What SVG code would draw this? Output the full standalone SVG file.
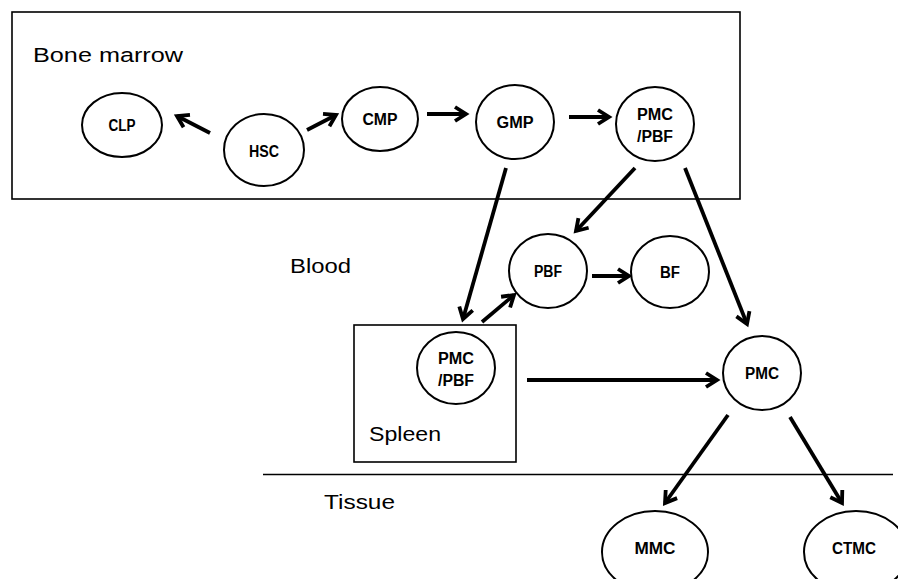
<svg xmlns="http://www.w3.org/2000/svg" width="898" height="579" viewBox="0 0 898 579">
<style>
.box{fill:none;stroke:#000;stroke-width:1.6}
.cell{fill:#fff;stroke:#000;stroke-width:2}
.lbl{font-family:"Liberation Sans",Arial,sans-serif;font-weight:bold;font-size:16px;text-anchor:middle}
.reg{font-family:"Liberation Sans",Arial,sans-serif;font-size:20.5px}
.arr{stroke:#000;stroke-width:3.8;fill:none;marker-end:url(#head)}
</style>
<defs>
<marker id="head" markerUnits="userSpaceOnUse" viewBox="-14 -10 18 20" markerWidth="18" markerHeight="20" refX="0" refY="0" orient="auto">
<path d="M-11,-7 L0,0 L-11,7" fill="none" stroke="#000" stroke-width="3.8" stroke-linejoin="miter"/>
</marker>
</defs>
<g id="regions">
<rect id="bone-marrow" class="box" x="12" y="12" width="728" height="187"/>
<text class="reg" x="33" y="62" textLength="150" lengthAdjust="spacingAndGlyphs">Bone marrow</text>
<text class="reg" x="290" y="273" textLength="61" lengthAdjust="spacingAndGlyphs">Blood</text>
<rect id="spleen" class="box" x="354" y="325" width="162" height="137"/>
<text class="reg" x="369" y="441" textLength="72" lengthAdjust="spacingAndGlyphs">Spleen</text>
<line x1="263" y1="474.5" x2="893" y2="474.5" stroke="#000" stroke-width="1.6"/>
<text class="reg" x="324" y="509" textLength="71" lengthAdjust="spacingAndGlyphs">Tissue</text>
</g>
<g id="connectors">
<line class="arr" x1="210" y1="133" x2="177" y2="116"/>
<line class="arr" x1="307" y1="130" x2="336" y2="115"/>
<line class="arr" x1="427" y1="114" x2="466" y2="114"/>
<line class="arr" x1="569" y1="117" x2="609" y2="117"/>
<line class="arr" x1="506" y1="168" x2="463" y2="319"/>
<line class="arr" x1="635" y1="168" x2="576" y2="231"/>
<line class="arr" x1="685" y1="168" x2="747" y2="324"/>
<line class="arr" x1="482" y1="322" x2="514" y2="295"/>
<line class="arr" x1="592" y1="276" x2="629" y2="276"/>
<line class="arr" x1="527" y1="380" x2="717" y2="380"/>
<line class="arr" x1="728" y1="415" x2="665" y2="503"/>
<line class="arr" x1="790" y1="417" x2="842" y2="503"/>
</g>
<g id="CLP"><ellipse class="cell" cx="122" cy="125" rx="40" ry="32"/><text class="lbl" x="122" y="131" textLength="27" lengthAdjust="spacingAndGlyphs">CLP</text></g>
<g id="HSC"><ellipse class="cell" cx="264" cy="150" rx="40" ry="36"/><text class="lbl" x="264" y="157" textLength="30" lengthAdjust="spacingAndGlyphs">HSC</text></g>
<g id="CMP"><ellipse class="cell" cx="380" cy="119" rx="38" ry="32"/><text class="lbl" x="380" y="125" textLength="35" lengthAdjust="spacingAndGlyphs">CMP</text></g>
<g id="GMP"><ellipse class="cell" cx="515" cy="122" rx="39" ry="37"/><text class="lbl" x="515" y="128" textLength="37" lengthAdjust="spacingAndGlyphs">GMP</text></g>
<g id="PMC-PBF-bm"><ellipse class="cell" cx="655" cy="124" rx="39" ry="37"/><text class="lbl" x="655" y="120" textLength="36" lengthAdjust="spacingAndGlyphs">PMC</text><text class="lbl" x="655" y="142" textLength="36" lengthAdjust="spacingAndGlyphs">/PBF</text></g>
<g id="PBF"><ellipse class="cell" cx="548" cy="271" rx="39" ry="37"/><text class="lbl" x="548" y="277" textLength="28" lengthAdjust="spacingAndGlyphs">PBF</text></g>
<g id="BF"><ellipse class="cell" cx="670" cy="272" rx="39" ry="36"/><text class="lbl" x="670" y="278" textLength="20" lengthAdjust="spacingAndGlyphs">BF</text></g>
<g id="PMC-PBF-spleen"><ellipse class="cell" cx="456" cy="368" rx="39" ry="36"/><text class="lbl" x="456" y="364" textLength="36" lengthAdjust="spacingAndGlyphs">PMC</text><text class="lbl" x="456" y="386" textLength="36" lengthAdjust="spacingAndGlyphs">/PBF</text></g>
<g id="PMC"><ellipse class="cell" cx="762" cy="373" rx="39" ry="37"/><text class="lbl" x="762" y="379" textLength="34" lengthAdjust="spacingAndGlyphs">PMC</text></g>
<g id="MMC"><ellipse class="cell" cx="655" cy="552" rx="53" ry="41"/><text class="lbl" x="655" y="554" textLength="41" lengthAdjust="spacingAndGlyphs">MMC</text></g>
<g id="CTMC"><ellipse class="cell" cx="856" cy="552" rx="52" ry="41"/><text class="lbl" x="854" y="554" textLength="44" lengthAdjust="spacingAndGlyphs">CTMC</text></g>
</svg>
